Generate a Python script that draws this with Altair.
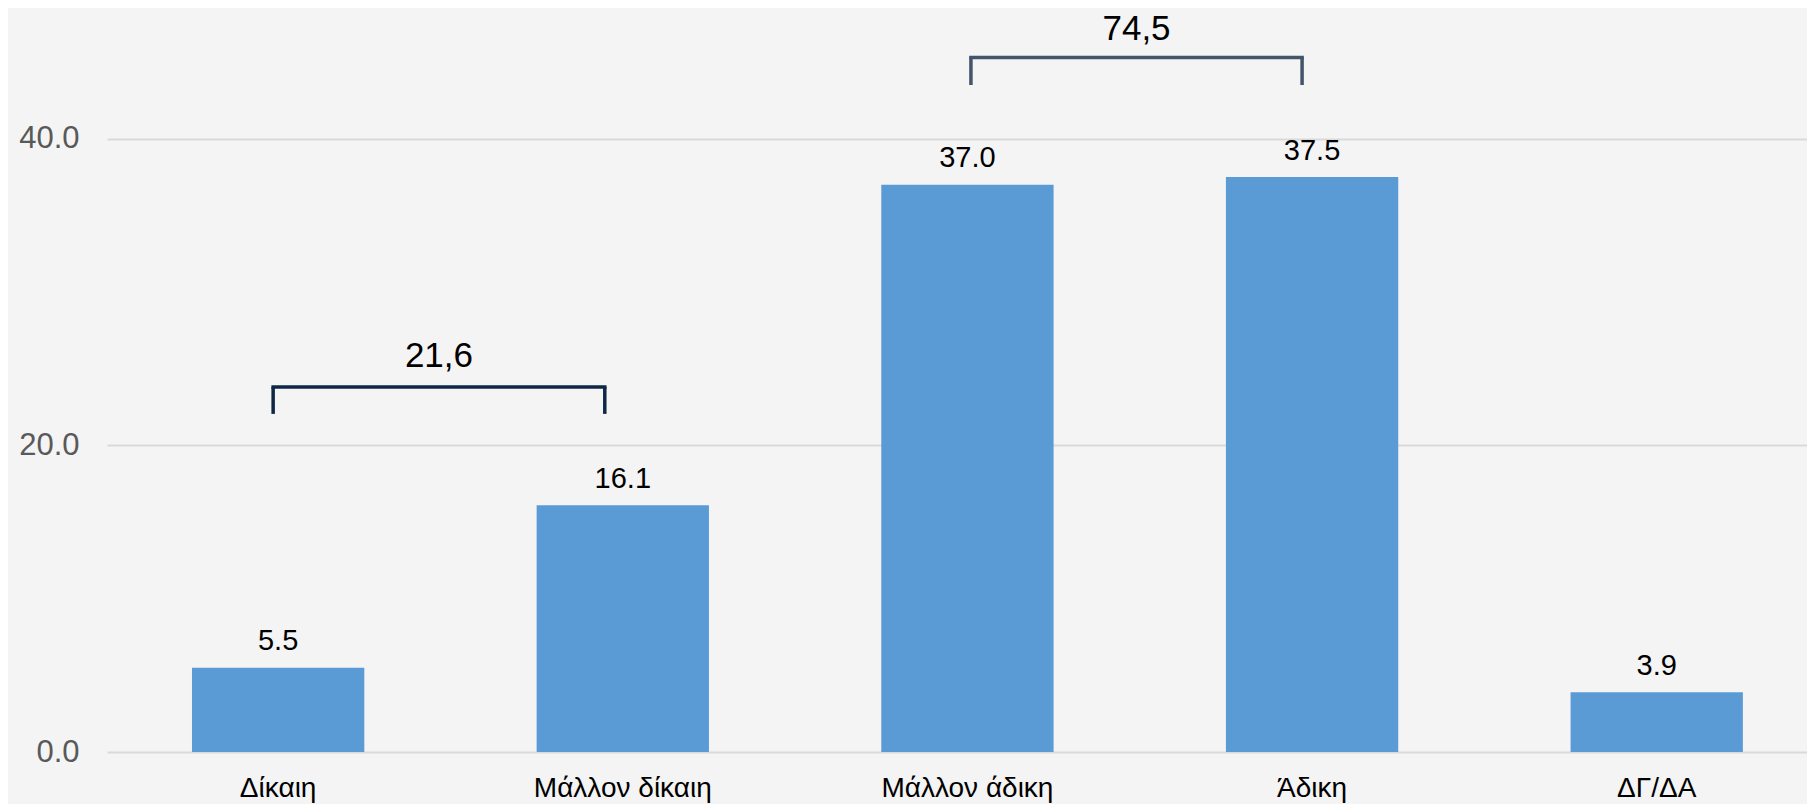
import altair as alt
import pandas as pd

# ---- data ----
categories = ["Δίκαιη", "Μάλλον δίκαιη", "Μάλλον άδικη", "Άδικη", "ΔΓ/ΔΑ"]
values = [5.5, 16.1, 37.0, 37.5, 3.9]
y_ticks = [0, 20, 40]
group_labels = ["21,6", "74,5"]
group_start = ["Δίκαιη", "Μάλλον άδικη"]
group_end = ["Μάλλον δίκαιη", "Άδικη"]

df = pd.DataFrame({"cat": categories, "val": values})

# ---- layout / style ----
FONT = "Liberation Sans"
W, H = 1700, 736
YMAX = 48
P_INNER, P_OUTER, ALIGN = 0.5, 0.2163, 0.57
STEP = W / (len(categories) - P_INNER + 2 * P_OUTER)

x_scale = alt.Scale(domain=categories, paddingInner=P_INNER, paddingOuter=P_OUTER, align=ALIGN)
y_scale = alt.Scale(domain=[0, YMAX], nice=False, zero=True)


def X(field):
    return alt.X(f"{field}:N", scale=x_scale, title=None)


def Y(field):
    return alt.Y(f"{field}:Q", scale=y_scale, title=None)


bars = alt.Chart(df).mark_bar(color="#5b9bd5").encode(
    x=alt.X("cat:N", scale=x_scale, title=None,
            axis=alt.Axis(labelAngle=0, labelFontSize=28, labelColor="#000000",
                          labelBaseline="alphabetic", labelPadding=44, ticks=False,
                          domain=False, grid=False, labelFont=FONT)),
    y=alt.Y("val:Q", scale=y_scale, title=None,
            axis=alt.Axis(values=y_ticks, format=".1f", labelFontSize=31,
                          labelColor="#595959", labelPadding=28, ticks=False,
                          domain=False, grid=True, gridColor="#d9d9d9", gridWidth=2,
                          labelFont=FONT)),
)

bar_labels = alt.Chart(df).mark_text(
    baseline="alphabetic", dy=-17.5, fontSize=29, font=FONT, color="#000000"
).encode(x=X("cat"), y=Y("val"), text=alt.Text("val:Q", format=".1f"))

# bracket annotations (positions / styles kept apart from the data)
bracket_style = [
    dict(color="#0f2746", top=23.8, bot=22.05, ty=25.1, off_l=-5, off_r=-18),
    dict(color="#44546a", top=45.3, bot=43.5, ty=46.42, off_l=3.5, off_r=-10),
]

layers = [bars, bar_labels]
for lab, s, e, st in zip(group_labels, group_start, group_end, bracket_style):
    bdf = pd.DataFrame({"s": [s], "e": [e], "top": [st["top"]], "bot": [st["bot"]],
                        "ty": [st["ty"]], "lab": [lab]})
    base = alt.Chart(bdf)
    horiz = base.mark_rule(color=st["color"], strokeWidth=3.5, xOffset=st["off_l"],
                           x2Offset=st["off_r"], strokeCap="square").encode(
        x=X("s"), x2="e:N", y=Y("top"))
    left = base.mark_rule(color=st["color"], strokeWidth=3.5, xOffset=st["off_l"]).encode(
        x=X("s"), y=Y("top"), y2="bot:Q")
    right = base.mark_rule(color=st["color"], strokeWidth=3.5, xOffset=st["off_r"]).encode(
        x=X("e"), y=Y("top"), y2="bot:Q")
    txt = base.mark_text(baseline="alphabetic", fontSize=35, font=FONT, color="#000000",
                         dx=STEP / 2 + (st["off_l"] + st["off_r"]) / 2).encode(
        x=X("s"), y=Y("ty"), text="lab:N")
    layers += [horiz, left, right, txt]

chart = alt.layer(*layers).properties(
    width=W, height=H,
    padding={"left": 99, "top": 8, "right": 0, "bottom": 52},
    autosize=alt.AutoSizeParams(type="none"),
    background="#f4f4f4",
).configure_view(stroke=None)

chart.save("out.html", embed_options={"renderer": "svg", "actions": False})
